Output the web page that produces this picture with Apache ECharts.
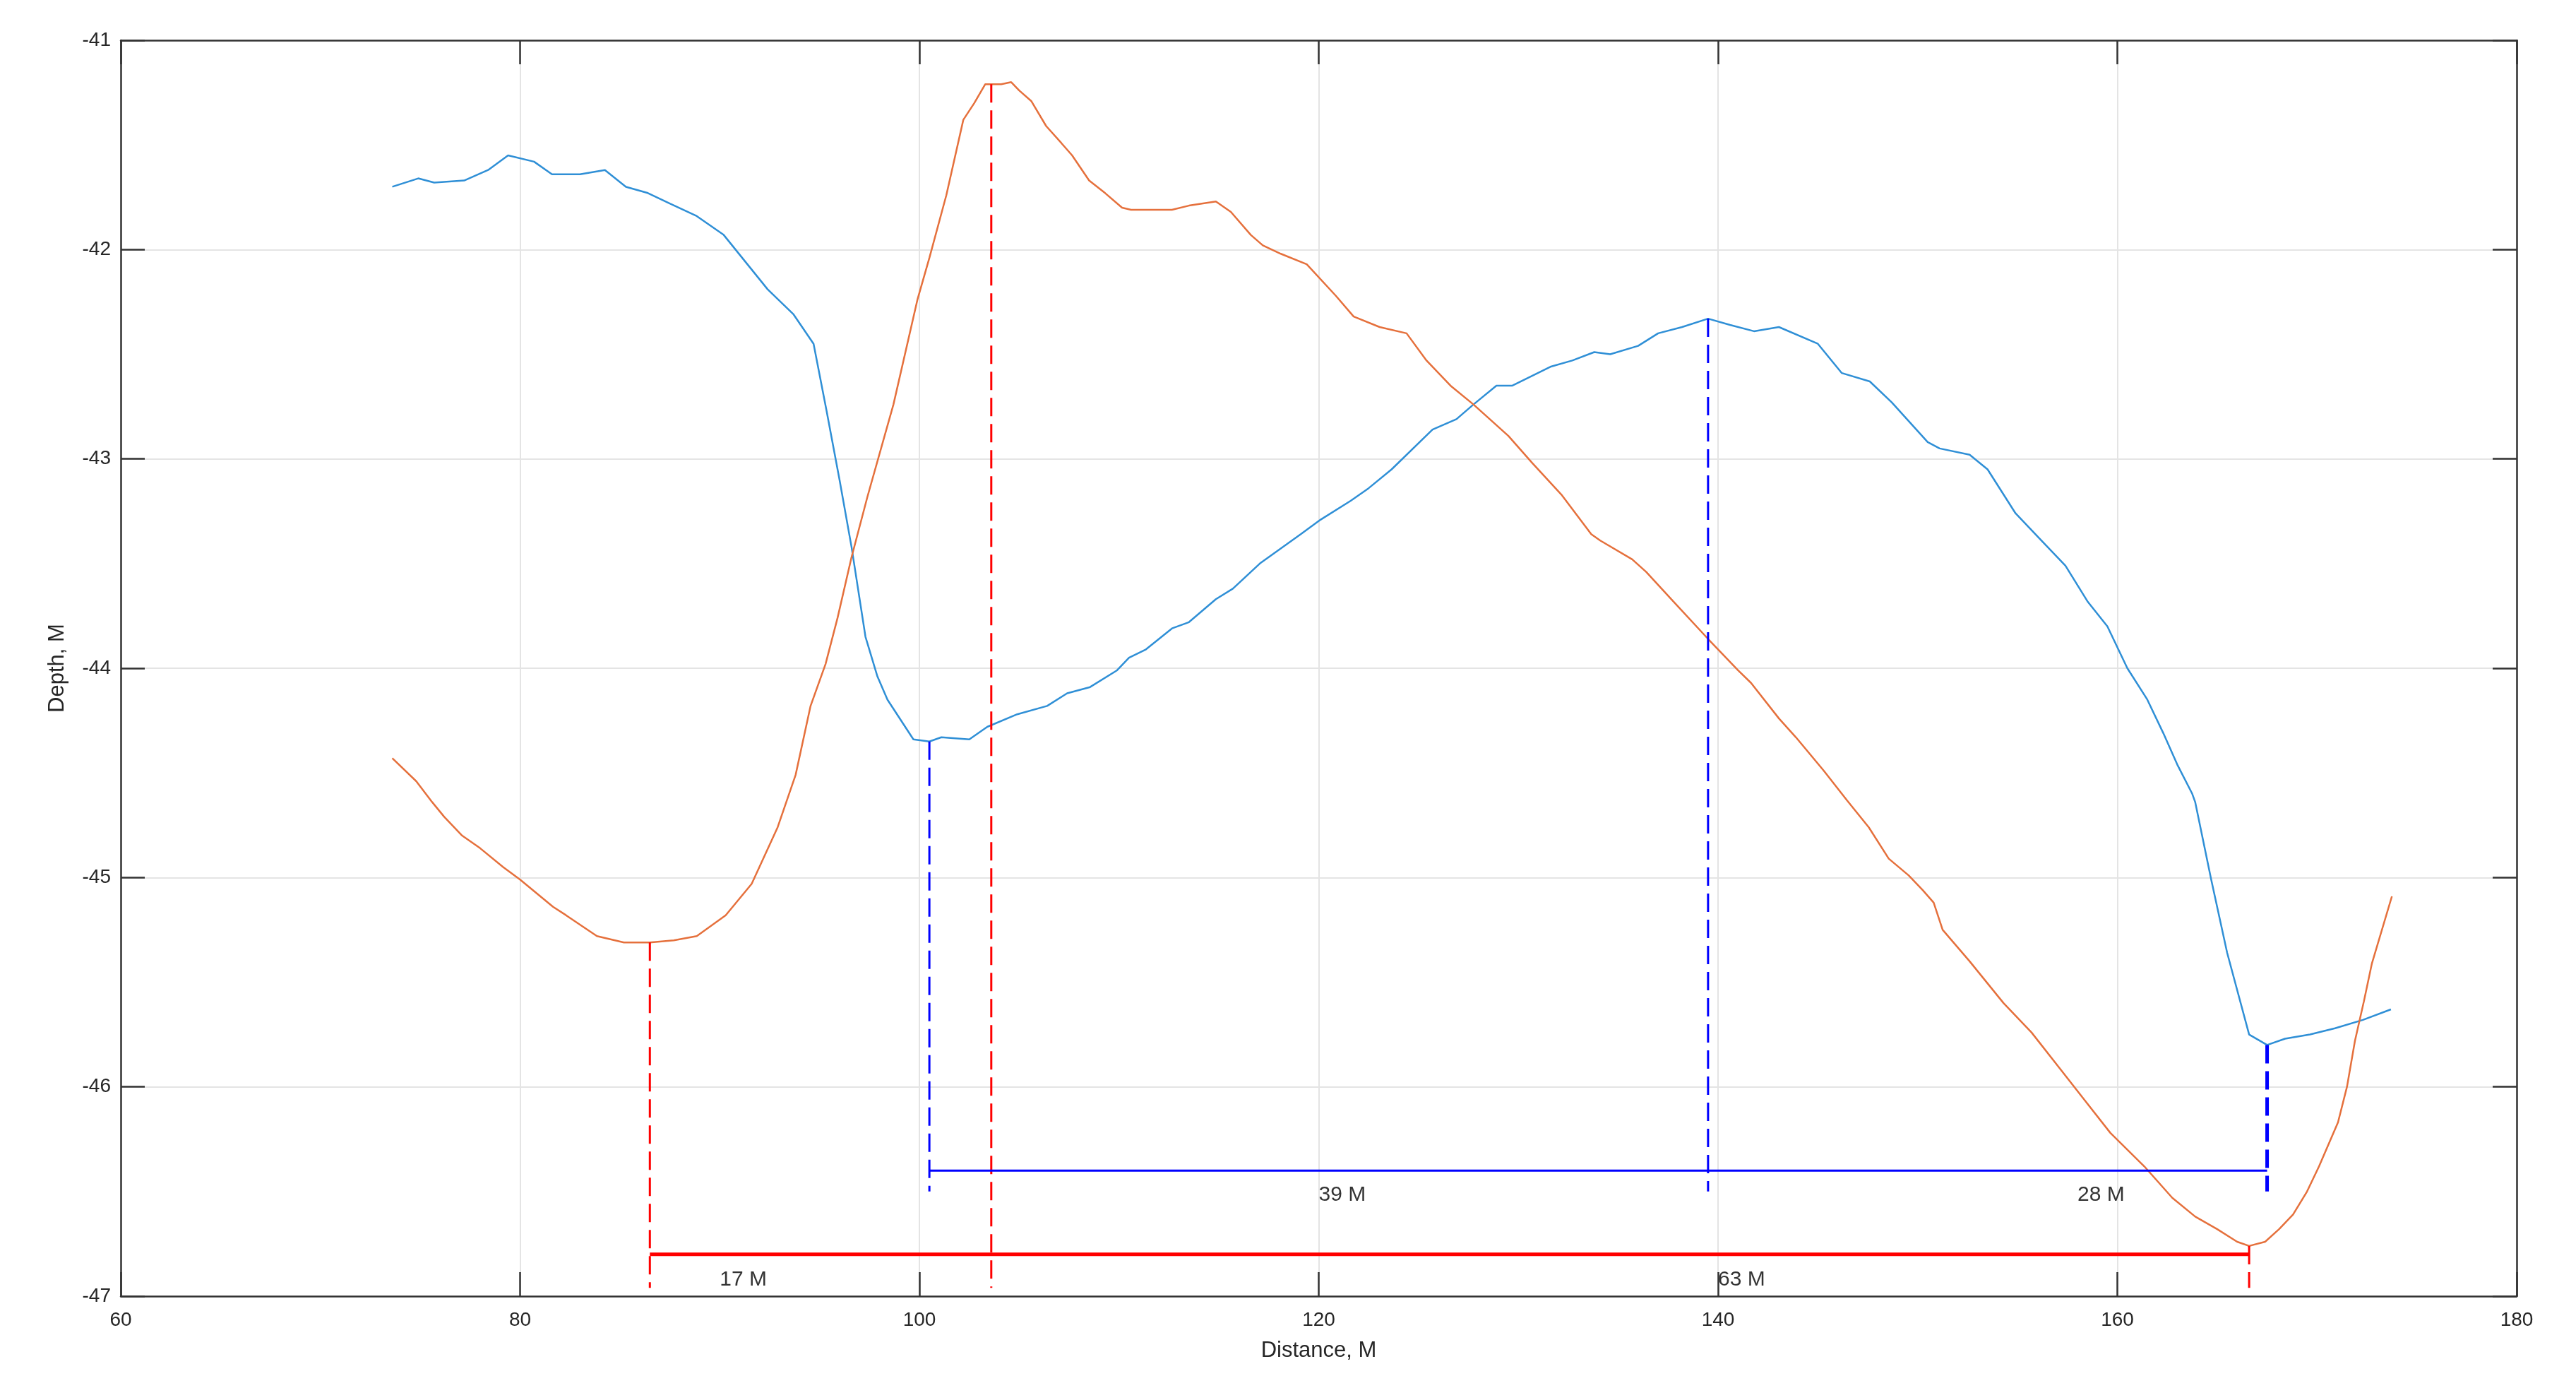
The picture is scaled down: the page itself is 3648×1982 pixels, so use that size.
<!DOCTYPE html>
<html>
<head>
<meta charset="utf-8">
<title>Depth profile</title>
<script src="https://cdn.jsdelivr.net/npm/echarts@6/dist/echarts.min.js"></script>
<style>
  html, body { margin: 0; padding: 0; background: #fff; }
  #chart { width: 3648px; height: 1982px; }
</style>
</head>
<body>
<div id="chart"></div>
<script>
// profile 1 (blue)
const BLUE_X = [73.6, 74.9, 75.7, 77.2, 78.4, 79.4, 80.7, 81.6, 83.0, 84.25, 85.3, 86.4, 87.5, 88.85, 90.2, 91.3, 92.4, 93.7, 94.7, 95.35,
  96.0, 96.6, 97.3, 97.9, 98.4, 99.7, 100.5, 101.1, 102.5, 103.4, 104.9, 106.4, 107.4, 108.55, 109.9, 110.5, 111.35, 112.65, 113.5, 114.85,
  115.7, 117.05, 119.1, 120.1, 121.6, 122.5, 123.65, 125.7, 126.9, 127.75, 128.9, 129.7, 131.6, 132.7, 133.8, 134.6, 136.0, 137.0, 138.2, 139.5,
  140.6, 141.8, 143.05, 145.0, 146.2, 147.6, 148.7, 150.5, 151.1, 152.6, 153.5, 154.9, 156.1, 157.4, 158.5, 159.5, 160.5, 161.5, 162.3, 163.0,
  163.75, 163.9, 164.7, 165.5, 166.6, 167.5, 168.4, 169.65, 170.9, 172.3, 173.7];
const BLUE_Y = [-41.70, -41.66, -41.68, -41.67, -41.62, -41.55, -41.58, -41.64, -41.64, -41.62, -41.70, -41.73, -41.78, -41.84, -41.93, -42.06, -42.19, -42.31, -42.45, -42.77,
  -43.10, -43.42, -43.85, -44.04, -44.15, -44.34, -44.35, -44.33, -44.34, -44.28, -44.22, -44.18, -44.12, -44.09, -44.01, -43.95, -43.91, -43.81, -43.78, -43.67,
  -43.62, -43.50, -43.36, -43.29, -43.20, -43.14, -43.05, -42.86, -42.81, -42.74, -42.65, -42.65, -42.56, -42.53, -42.49, -42.50, -42.46, -42.40, -42.37, -42.33,
  -42.36, -42.39, -42.37, -42.45, -42.59, -42.63, -42.73, -42.92, -42.95, -42.98, -43.05, -43.26, -43.38, -43.51, -43.68, -43.80, -44.00, -44.15, -44.31, -44.46,
  -44.60, -44.64, -45.01, -45.36, -45.75, -45.80, -45.77, -45.75, -45.72, -45.68, -45.63];

// profile 2 (orange)
const ORANGE_X = [73.6, 74.8, 75.6, 76.2, 77.1, 78.0, 79.15, 80.0, 81.65, 82.3, 83.85, 85.2, 86.5, 87.7, 88.85, 90.3, 91.6, 92.9, 93.8, 94.55,
  95.3, 95.9, 96.6, 97.4, 98.7, 99.9, 100.5, 101.35, 102.2, 102.75, 103.3, 104.1, 104.6, 105.0, 105.6, 106.35, 107.1, 107.65, 108.5, 109.3,
  110.15, 110.6, 111.9, 112.65, 113.5, 114.85, 115.6, 116.6, 117.2, 118.1, 119.4, 120.85, 121.75, 123.05, 124.4, 125.4, 126.6, 127.75, 129.5, 130.7,
  132.15, 133.65, 134.1, 135.7, 136.4, 137.75, 139.5, 141.0, 141.65, 143.05, 143.9, 145.3, 146.45, 147.55, 148.55, 149.55, 150.25, 150.8, 151.25, 152.6,
  154.3, 155.7, 157.1, 158.25, 159.65, 161.35, 162.75, 163.9, 165.0, 166.0, 166.6, 167.4, 168.1, 168.8, 169.5, 170.1, 171.05, 171.5, 171.9, 172.35,
  172.75, 173.75];
const ORANGE_Y = [-44.43, -44.54, -44.64, -44.71, -44.80, -44.86, -44.95, -45.01, -45.14, -45.18, -45.28, -45.31, -45.31, -45.30, -45.28, -45.18, -45.03, -44.76, -44.51, -44.18,
  -43.98, -43.76, -43.47, -43.18, -42.74, -42.24, -42.04, -41.74, -41.38, -41.30, -41.21, -41.21, -41.20, -41.24, -41.29, -41.41, -41.49, -41.55, -41.67, -41.73,
  -41.80, -41.81, -41.81, -41.81, -41.79, -41.77, -41.82, -41.93, -41.98, -42.02, -42.07, -42.22, -42.32, -42.37, -42.40, -42.53, -42.65, -42.74, -42.89, -43.02,
  -43.17, -43.36, -43.39, -43.48, -43.54, -43.68, -43.86, -44.01, -44.07, -44.24, -44.33, -44.49, -44.63, -44.76, -44.91, -44.99, -45.06, -45.12, -45.25, -45.40,
  -45.60, -45.74, -45.91, -46.05, -46.22, -46.38, -46.53, -46.62, -46.68, -46.74, -46.76, -46.74, -46.68, -46.61, -46.50, -46.38, -46.17, -46.00, -45.78, -45.59,
  -45.41, -45.09];

// measurement marks
const RED_DROP_X = [86.5, 103.6, 166.6];
const RED_DROP_TOP = [-45.31, -41.21, -46.76];
const RED_DROP_BOTTOM = -46.96;
const RED_SPAN_Y = -46.8;
const BLUE_DROP_X = [100.5, 139.5, 167.5];
const BLUE_DROP_TOP = [-44.35, -42.33, -45.80];
const BLUE_DROP_BOTTOM = -46.5;
const BLUE_SPAN_Y = -46.4;

const LABEL_TEXT = ['17 M', '63 M', '39 M', '28 M'];
const LABEL_X = [90, 140, 120, 158];
const LABEL_Y = [-46.92, -46.92, -46.515, -46.515];

const X_TICKS = { min: 60, max: 180, interval: 20 };
const Y_TICKS = { min: -47, max: -41, interval: 1 };

const FONT = '"Liberation Sans", Arial, sans-serif';
const AXIS_COLOR = '#333333';

function zip(xs, ys) {
  return xs.map(function (x, i) { return [x, ys[i]]; });
}

function axis(pos, ticks, withLabels) {
  return {
    type: 'value',
    position: pos,
    min: ticks.min,
    max: ticks.max,
    interval: ticks.interval,
    axisLine: { show: true, onZero: false, lineStyle: { color: AXIS_COLOR, width: 2.5 } },
    axisTick: { show: true, inside: true, length: 34, lineStyle: { color: AXIS_COLOR, width: 2.5 } },
    axisLabel: { show: withLabels, fontSize: 28, color: '#262626', fontFamily: FONT },
    splitLine: { show: withLabels, lineStyle: { color: '#e4e4e4', width: 2 } }
  };
}

let xBottom = axis('bottom', X_TICKS, true);
xBottom.axisLabel.margin = 20;
xBottom.name = 'Distance, M';
xBottom.nameLocation = 'middle';
xBottom.nameGap = 62;
xBottom.nameTextStyle = { fontSize: 31, color: '#262626', fontFamily: FONT };

let yLeft = axis('left', Y_TICKS, true);
yLeft.axisLabel.margin = 14;
yLeft.name = 'Depth, M';
yLeft.nameLocation = 'middle';
yLeft.nameGap = 74;
yLeft.nameTextStyle = { fontSize: 31, color: '#262626', fontFamily: FONT };

let series = [
  {
    name: 'blue', type: 'line', data: zip(BLUE_X, BLUE_Y), symbol: 'none',
    lineStyle: { color: '#2f8fd6', width: 2.5 }, z: 3
  },
  {
    name: 'orange', type: 'line', data: zip(ORANGE_X, ORANGE_Y), symbol: 'none',
    lineStyle: { color: '#e5703c', width: 2.5 }, z: 3
  }
];

// dashed drop lines
RED_DROP_X.forEach(function (x, i) {
  series.push({
    type: 'line', symbol: 'none', silent: true, z: 4,
    data: [[x, RED_DROP_TOP[i]], [x, RED_DROP_BOTTOM]],
    lineStyle: { color: '#ff0000', width: 3, type: [26, 11] }
  });
});
BLUE_DROP_X.forEach(function (x, i) {
  series.push({
    type: 'line', symbol: 'none', silent: true, z: 4,
    data: [[x, BLUE_DROP_TOP[i]], [x, BLUE_DROP_BOTTOM]],
    lineStyle: { color: '#0000ff', width: i === 2 ? 5 : 3, type: [26, 11] }
  });
});

// span lines
series.push({
  type: 'line', symbol: 'none', silent: true, z: 4,
  data: [[RED_DROP_X[0], RED_SPAN_Y], [RED_DROP_X[2], RED_SPAN_Y]],
  lineStyle: { color: '#ff0000', width: 5 }
});
series.push({
  type: 'line', symbol: 'none', silent: true, z: 4,
  data: [[BLUE_DROP_X[0], BLUE_SPAN_Y], [BLUE_DROP_X[2], BLUE_SPAN_Y]],
  lineStyle: { color: '#0000ff', width: 3 }
});

// distance labels
series.push({
  type: 'scatter', symbolSize: 0, silent: true, z: 5,
  data: LABEL_TEXT.map(function (t, i) { return [LABEL_X[i], LABEL_Y[i], t]; }),
  label: {
    show: true, position: 'inside', align: 'left', verticalAlign: 'middle',
    fontSize: 30, color: '#000', fontFamily: FONT,
    formatter: function (p) { return p.value[2]; }
  }
});

let option = {
  backgroundColor: '#ffffff',
  animation: false,
  grid: { left: 171, right: 84, top: 57, bottom: 147 },
  xAxis: [xBottom, axis('top', X_TICKS, false)],
  yAxis: [yLeft, axis('right', Y_TICKS, false)],
  series: series
};

var myChart = echarts.init(document.getElementById('chart'));
myChart.setOption(option);
</script>
</body>
</html>
